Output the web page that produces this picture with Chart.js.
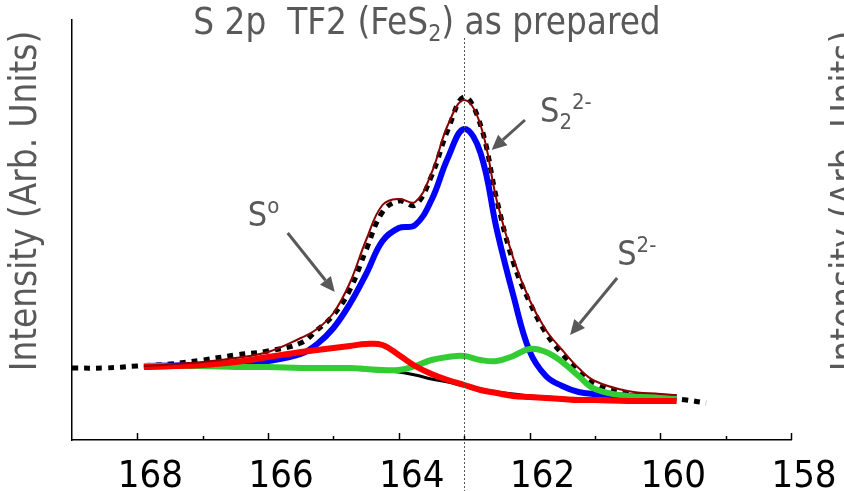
<!DOCTYPE html>
<html>
<head>
<meta charset="utf-8">
<script src="https://cdn.jsdelivr.net/npm/chart.js@4.4.1/dist/chart.umd.min.js"></script>
<style>
    html, body { margin: 0; padding: 0; background: #ffffff; }
    #wrap { width: 844px; height: 491px; position: relative; }
</style>
</head>
<body>
<div id="wrap"><canvas id="xps"></canvas></div>
<script>
// Binding energy grid shared by the fitted components (eV)
const fitEnergy = [167.9, 167, 166.5, 166, 165.5, 165.25, 165, 164.75, 164.5, 164.25, 164, 163.75, 163.5,
    163.25, 163, 162.75, 162.5, 162.25, 162, 161.75, 161.5, 161.25, 161, 160.5, 160, 159.75];

// Fitted components (arb. units)
const shirleyBackground = [73, 73, 73, 73, 72, 72, 72, 71, 70, 69, 68, 65, 61, 58, 54, 51, 48, 46, 44, 43, 42, 41, 41, 40, 40, 40];
const disulfideFit = [74, 75, 76, 79, 86, 96, 112, 136, 166, 199, 212, 215, 240, 282, 311, 287, 210, 145, 89, 64, 54, 48, 46, 44, 43, 43];
const sulfideFit = [74, 74, 73, 73, 72, 72, 72, 72, 71, 70, 70, 74, 80, 83, 84, 80, 79, 84, 91, 88, 78, 64, 51, 44, 43, 42];
const elementalFit = [73, 75, 78, 83, 88, 90, 92, 94, 96, 95, 85, 74, 66, 60, 55, 50, 47, 44, 43, 42, 41, 40, 40, 39, 39, 39];
const envelopeFit = [74, 78, 82, 88, 102, 111, 127, 157, 200, 235, 241, 238, 267, 315, 340, 315, 239, 182, 140, 110, 90, 72, 59, 49, 46, 45];

// Measured spectrum
const rawEnergy = [169, 168.5, 168, 167.5, 167, 166.5, 166, 165.5, 165.25, 165, 164.75, 164.5, 164.25, 164, 163.75,
    163.5, 163.25, 163, 162.75, 162.5, 162.25, 162, 161.75, 161.5, 161.25, 161, 160.5, 160, 159.6, 159.3];
const rawCounts = [72, 72, 74, 76, 80, 85, 89, 97, 110, 125, 150, 190, 228, 239, 235,
    264, 310, 343, 315, 240, 178, 138, 107, 86, 69, 56, 46, 43, 40, 37];

const xTickLabels = [168, 166, 164, 162, 160, 158];
const markerEnergy = 163;

// Peak labels: text anchor and arrow tail/tip in (eV, intensity)
const peakLabels = [
    { main: 'S', sub: '', sup: 'o', at: [166.31, 214], from: [165.70, 207], to: [164.98, 148] },
    { main: 'S', sub: '2', sup: '2-', at: [161.84, 318], from: [162.07, 320], to: [162.58, 290] },
    { main: 'S', sub: '', sup: '2-', at: [160.66, 175], from: [160.66, 162], to: [161.38, 105] },
];

const FONT = '"DejaVu Sans Condensed", "DejaVu Sans", sans-serif';
const GREY = '#595959';

const pts = (xs, ys) => xs.map((x, i) => ({ x, y: ys[i] }));

function drawRich(ctx, parts, x, y, align) {
    // parts: [text, size, baselineShift]
    let width = 0;
    parts.forEach(([t, size]) => {
        ctx.font = `${size}px ${FONT}`;
        width += ctx.measureText(t).width;
    });
    let cx = align === 'center' ? x - width / 2 : x;
    ctx.textAlign = 'left';
    ctx.textBaseline = 'alphabetic';
    parts.forEach(([t, size, dy]) => {
        ctx.font = `${size}px ${FONT}`;
        ctx.fillText(t, cx, y + (dy || 0));
        cx += ctx.measureText(t).width;
    });
}

function drawArrow(ctx, x1, y1, x2, y2) {
    const ang = Math.atan2(y2 - y1, x2 - x1);
    const head = 15;
    const bx = x2 - head * Math.cos(ang);
    const by = y2 - head * Math.sin(ang);
    ctx.beginPath();
    ctx.moveTo(x1, y1);
    ctx.lineTo(bx, by);
    ctx.lineWidth = 3;
    ctx.stroke();
    ctx.beginPath();
    ctx.moveTo(x2, y2);
    ctx.lineTo(bx + 7 * Math.sin(ang), by - 7 * Math.cos(ang));
    ctx.lineTo(bx - 7 * Math.sin(ang), by + 7 * Math.cos(ang));
    ctx.closePath();
    ctx.fill();
}

const decorations = {
    id: 'decorations',
    afterDatasetsDraw(chart) {
        const { ctx } = chart;
        const x = chart.scales.x;
        const y = chart.scales.y;
        ctx.save();

        // dotted marker line at the FeS2 peak position
        const mx = Math.round(x.getPixelForValue(markerEnergy)) + 0.5;
        ctx.strokeStyle = '#555555';
        ctx.lineWidth = 1;
        ctx.setLineDash([2, 2]);
        ctx.beginPath();
        ctx.moveTo(mx, 38);
        ctx.lineTo(mx, chart.height);
        ctx.stroke();
        ctx.setLineDash([]);

        // peak labels and arrows
        ctx.fillStyle = GREY;
        ctx.strokeStyle = GREY;
        peakLabels.forEach((p) => {
            const tx = x.getPixelForValue(p.at[0]);
            const ty = y.getPixelForValue(p.at[1]);
            const parts = [[p.main, 34, 0]];
            if (p.sub) parts.push([p.sub, 22, 7]);
            if (p.sup) parts.push([p.sup, 22, -13]);
            drawRich(ctx, parts, tx, ty, 'left');
            drawArrow(ctx,
                x.getPixelForValue(p.from[0]), y.getPixelForValue(p.from[1]),
                x.getPixelForValue(p.to[0]), y.getPixelForValue(p.to[1]));
        });
        ctx.restore();
    },
    afterDraw(chart) {
        const { ctx, chartArea } = chart;
        const x = chart.scales.x;
        ctx.save();

        // inward tick marks, long on the labelled values
        ctx.strokeStyle = '#000000';
        ctx.lineWidth = 1.5;
        for (let v = 158; v <= 168; v++) {
            const px = Math.round(x.getPixelForValue(v)) + 0.5;
            const len = v % 2 === 0 ? 7 : 4;
            ctx.beginPath();
            ctx.moveTo(px, chartArea.bottom);
            ctx.lineTo(px, chartArea.bottom - len);
            ctx.stroke();
        }

        // title
        ctx.fillStyle = GREY;
        drawRich(ctx, [['S 2p  TF2 (FeS', 36.5, 0], ['2', 23, 7], [') as prepared', 36.5, 0]], 427, 34, 'center');

        // vertical axis title, and the one of the neighbouring panel at the right edge
        ctx.font = `36.5px ${FONT}`;
        ctx.textAlign = 'center';
        ctx.textBaseline = 'middle';
        [27, 848].forEach((cx) => {
            ctx.save();
            ctx.translate(cx, 201);
            ctx.rotate(-Math.PI / 2);
            ctx.fillText('Intensity (Arb. Units)', 0, 0);
            ctx.restore();
        });
        ctx.restore();
    },
};

new Chart(document.getElementById('xps'), {
    type: 'line',
    data: {
        datasets: [
            {
                label: 'Envelope',
                data: pts(fitEnergy, envelopeFit),
                borderColor: '#8b0000',
                borderWidth: 2,
            },
            {
                label: 'S0',
                data: pts(fitEnergy, elementalFit),
                borderColor: '#ff0000',
                borderWidth: 6,
            },
            {
                label: 'S2-',
                data: pts(fitEnergy, sulfideFit),
                borderColor: '#33cc33',
                borderWidth: 6,
            },
            {
                label: 'S2 2-',
                data: pts(fitEnergy, disulfideFit),
                borderColor: '#0000ff',
                borderWidth: 6,
            },
            {
                label: 'Background',
                data: pts(fitEnergy, shirleyBackground),
                borderColor: '#000000',
                borderWidth: 3,
            },
            {
                label: 'Data',
                data: pts(rawEnergy, rawCounts),
                borderColor: '#000000',
                borderWidth: 5,
                borderDash: [6, 6],
            },
        ],
    },
    options: {
        responsive: true,
        maintainAspectRatio: false,
        animation: false,
        layout: { padding: { left: 72, right: 53, top: 20, bottom: 0 } },
        elements: {
            point: { radius: 0 },
            line: { tension: 0.4, fill: false, borderJoinStyle: 'round' },
        },
        plugins: {
            legend: { display: false },
            tooltip: { enabled: false },
        },
        scales: {
            x: {
                type: 'linear',
                reverse: true,
                min: 158,
                max: 169,
                afterBuildTicks: (scale) => {
                    scale.ticks = xTickLabels.map((value) => ({ value }));
                },
                afterFit: (scale) => {
                    scale.height = 51;
                },
                grid: { drawOnChartArea: false, drawTicks: false },
                border: { color: '#000000', width: 1.5 },
                ticks: {
                    color: '#000000',
                    font: { family: FONT, size: 38 },
                    padding: 14,
                    labelOffset: 13,
                    maxRotation: 0,
                    autoSkip: false,
                },
            },
            y: {
                min: 0,
                max: 420,
                afterFit: (scale) => {
                    scale.width = 0;
                },
                grid: { drawOnChartArea: false, drawTicks: false },
                border: { color: '#000000', width: 1.5 },
                ticks: { display: false },
            },
        },
    },
    plugins: [decorations],
});
</script>
</body>
</html>
